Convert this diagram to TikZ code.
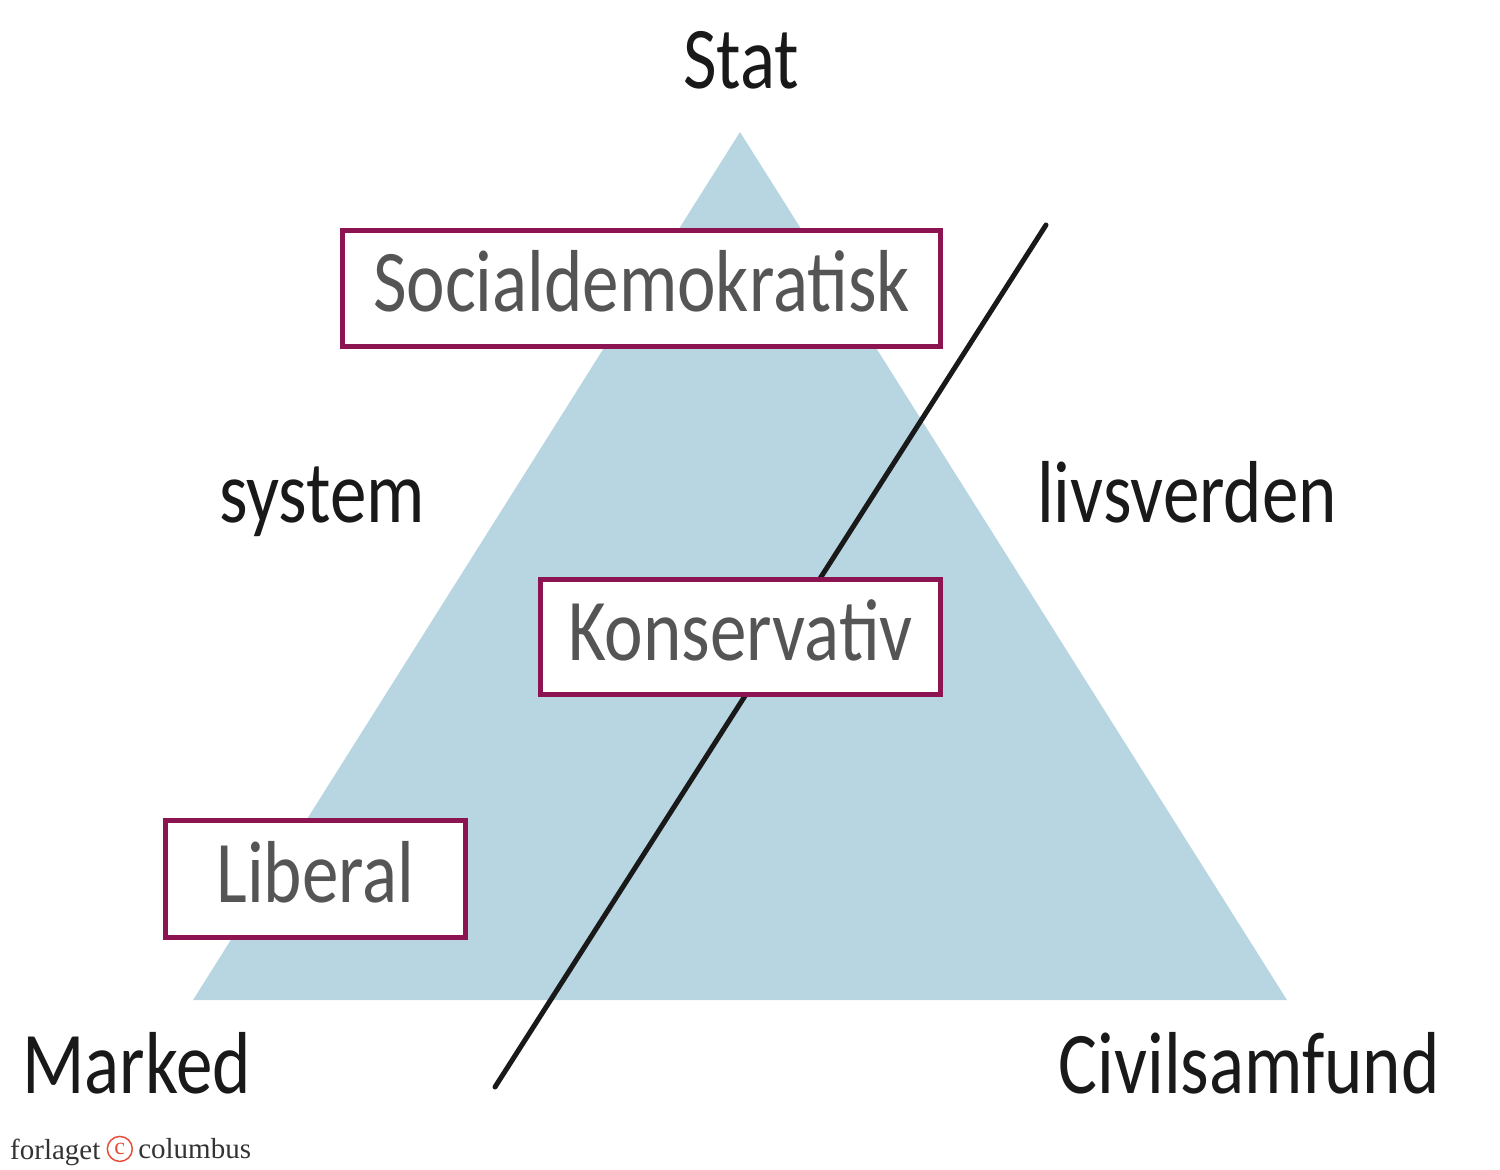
\documentclass[tikz,border=0pt]{standalone}
\usepackage{fontspec}
\setmainfont[FakeStretch=0.83]{Carlito}
\newfontfamily\logofont{Liberation Serif}
\usetikzlibrary{positioning}
\definecolor{triblue}{RGB}{184,213,226}
\definecolor{boxred}{RGB}{140,20,80}
\definecolor{labelgrey}{RGB}{85,85,85}
\definecolor{logored}{RGB}{228,80,60}

\begin{document}
\begin{tikzpicture}[x=1pt, y=-1pt,
  partybox/.style={rectangle, draw=boxred, line width=5pt, fill=white, text=labelgrey, inner sep=0pt, text height=46pt, text depth=0pt, font=\fontsize{88}{88}\selectfont},
  bigword/.style={inner sep=0pt, anchor=base, text=black!90, font=\fontsize{88}{88}\selectfont},
  logoword/.style={inner sep=0pt, font=\logofont\fontsize{29}{29}\selectfont, text=black!80}]
  \useasboundingbox (0,0) rectangle (1500,1170);

  % triangle and divider
  \coordinate (statcorner) at (740,132);
  \coordinate (markedcorner) at (193,1000);
  \coordinate (civilcorner) at (1287,1000);
  \fill[triblue] (statcorner) -- (markedcorner) -- (civilcorner) -- cycle;
  \coordinate (divtop) at (1046,225);
  \coordinate (divbot) at (495,1087);
  \draw[line width=5pt, line cap=round, black!90] (divtop) -- (divbot);

  % corners and spheres
  \node[bigword] (stat) at (741,88) {Stat};
  \node[bigword, anchor=base west] (marked) at (22,1093) {Marked};
  \node[bigword, anchor=base east] (civil) at (1440,1093) {Civilsamfund};
  \node[bigword] (system) at (322,522) {system};
  \node[bigword] (livsverden) at (1187,522) {livsverden};

  % party boxes
  \node[partybox, minimum width=598, minimum height=116] (socdem) at (641.5,288.5) {Socialdemokratisk};
  \node[partybox, minimum width=400, minimum height=115] (konserv) at (740.5,637) {Konservativ};
  \node[partybox, minimum width=300, minimum height=117] (liberal) at (315.5,879) {Liberal};

  % logo
  \node[logoword, anchor=base west] (forlaget) at (10,1159) {forlaget};
  \node[circle, draw=logored, line width=1.5pt, minimum size=25pt, inner sep=0pt, text=logored, font=\logofont\fontsize{24}{24}\selectfont, right=6pt of forlaget.east, yshift=3pt] (copyc) {c};
  \node[logoword, anchor=base west, right=5pt of copyc.east] (columbus) {columbus};
\end{tikzpicture}
\end{document}
